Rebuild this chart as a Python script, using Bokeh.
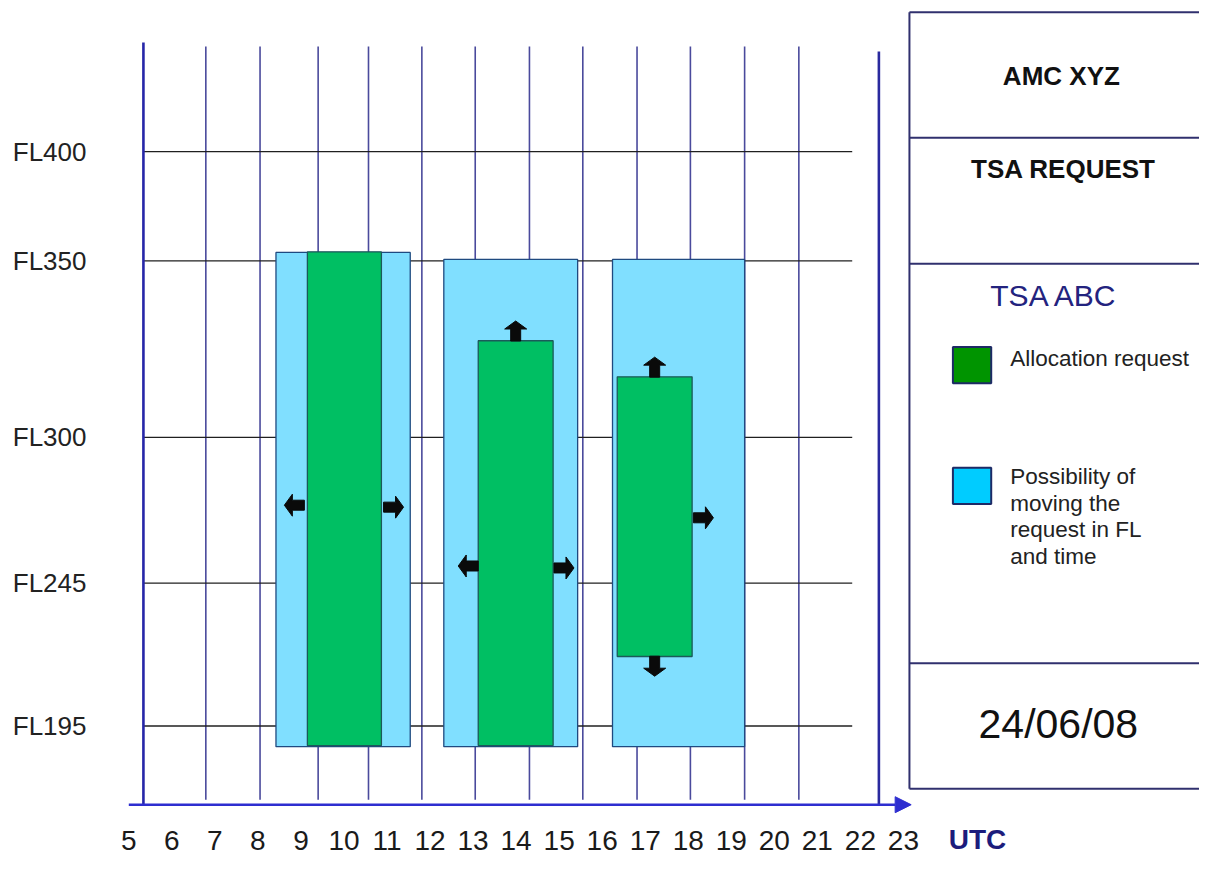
from bokeh.plotting import figure
from bokeh.models import Range1d, FixedTicker, Arrow, NormalHead
from bokeh.core.properties import value
from bokeh.embed import file_html
from bokeh.resources import INLINE

# ---------------- data ----------------
hours = list(range(5, 24))                      # UTC hour tick labels
fl_labels = ["FL400", "FL350", "FL300", "FL245", "FL195"]
fl_pos = [400, 361, 298, 246, 195]              # drawn position of each flight level

# vertical hour lines of the grid (in hour units of the label row)
grid_x = [6.79, 8.05, 9.40, 10.57, 11.81, 13.05, 14.31, 15.55, 16.81, 18.05, 19.31, 20.57]
axis_x = 5.34       # left axis line
end_x = 22.43       # thick end-of-day line
grid_end_x = 21.81  # end of the FL lines

# light blue: possibility of moving the request
win_left = [8.42, 12.32, 16.24]
win_right = [11.54, 15.43, 19.31]
win_top = [364.0, 361.5, 361.5]
win_bottom = [187.6, 187.6, 187.6]

# green: allocation request
req_left = [9.15, 13.12, 16.35]
req_right = [10.87, 14.86, 18.09]
req_top = [364.2, 332.5, 319.6]
req_bottom = [188.0, 188.0, 219.8]

# small move arrows (tail position + direction)
arr_x = [9.08, 10.92, 13.99, 13.12, 14.88, 17.22, 17.22, 18.12]
arr_y = [273.8, 273.1, 332.4, 252.1, 251.4, 319.5, 219.9, 269.3]
arr_dir = ["left", "right", "up", "left", "right", "up", "down", "right"]

panel_title = "AMC XYZ"
panel_sub = "TSA REQUEST"
panel_name = "TSA ABC"
legend_labels = ["Allocation request",
                 ["Possibility of", "moving the", "request in FL", "and time"]]
panel_date = "24/06/08"
unit_label = "UTC"

# ---------------- layout ----------------
FIG_W, FIG_H = 1199, 859
B_LEFT = 108
X0, X1 = 4.5285, 29.880
Y0, Y1 = 147.345, 453.93
frame_w = FIG_W - B_LEFT
frame_h = FIG_H
ppx = frame_w / (X1 - X0)   # pixels per hour unit
ppy = frame_h / (Y1 - Y0)   # pixels per level unit

FONT = "Liberation Sans"
BLUE_FILL = "#80DFFF"
GREEN_FILL = "#00BF63"
RECT_LINE = "#1F4A80"
VLINE = "#4A4A9C"
NAVY = "#23237E"

p = figure(width=FIG_W, height=FIG_H, output_backend="svg", toolbar_location=None,
           x_range=Range1d(X0, X1), y_range=Range1d(Y0, Y1), x_axis_location=None,
           min_border_left=B_LEFT, min_border_bottom=0,
           min_border_top=0, min_border_right=0)
p.outline_line_color = None
p.grid.visible = False
p.background_fill_color = "white"
p.border_fill_color = "white"

# flight level axis (labels only)
p.yaxis.ticker = FixedTicker(ticks=fl_pos)
p.yaxis.major_label_overrides = {v: t for v, t in zip(fl_pos, fl_labels)}
p.yaxis.axis_line_color = None
p.yaxis.major_tick_line_color = None
p.yaxis.minor_tick_line_color = None
p.yaxis.major_label_standoff = 16
p.yaxis.major_label_text_font = FONT
p.yaxis.major_label_text_font_size = "26px"
p.yaxis.major_label_text_color = "#222222"

# hour labels of the time axis
p.text(x=hours, y=[154.3] * len(hours), text=[str(h) for h in hours],
       text_font=value(FONT), text_font_size="28px", text_align="center",
       text_baseline="middle", text_color="#1a1a1a")
p.text(x=[24.72], y=[154.6], text=[unit_label], text_font=value(FONT),
       text_font_size="28px", text_font_style="bold", text_align="center",
       text_baseline="middle", text_color="#1C1C7C")

# grid lines
p.segment(x0=grid_x, y0=[437.5] * len(grid_x), x1=grid_x, y1=[168.7] * len(grid_x),
          line_color=VLINE, line_width=1.6)
p.segment(x0=[axis_x] * len(fl_pos), y0=fl_pos, x1=[grid_end_x] * len(fl_pos), y1=fl_pos,
          line_color="#202020", line_width=1.3)
p.segment(x0=[axis_x], y0=[438.9], x1=[axis_x], y1=[166.9], line_color="#2626A8", line_width=2.6)
p.segment(x0=[end_x], y0=[435.7], x1=[end_x], y1=[166.9], line_color="#2A2A9E", line_width=2.6)

# bottom time axis with arrow
p.add_layout(Arrow(x_start=5.0, y_start=166.9, x_end=23.18, y_end=166.9,
                   line_color="#2E2ED0", line_width=2.6,
                   end=NormalHead(size=16, fill_color="#2E2ED0", line_color="#2E2ED0")))

# rectangles
p.quad(left=win_left, right=win_right, top=win_top, bottom=win_bottom,
       fill_color=BLUE_FILL, line_color=RECT_LINE, line_width=1.3)
p.quad(left=req_left, right=req_right, top=req_top, bottom=req_bottom,
       fill_color=GREEN_FILL, line_color="#1B5A5A", line_width=1.3)

# move arrows as small block arrows
shape = [(0, -5), (12, -5), (12, -11), (20, 0), (12, 11), (12, 5), (0, 5)]
dirs = {"right": (1, 0), "left": (-1, 0), "up": (0, 1), "down": (0, -1)}
xs_list, ys_list = [], []
for x, y, d in zip(arr_x, arr_y, arr_dir):
    dx, dy = dirs[d]
    nx, ny = -dy, dx
    xs_list.append([x + (u * dx + v * nx) / ppx for u, v in shape])
    ys_list.append([y + (u * dy + v * ny) / ppy for u, v in shape])
p.patches(xs=xs_list, ys=ys_list, fill_color="#0a0a0a", line_color="#0a0a0a", line_width=1)

# ---------------- right panel ----------------
PX = 23.14
panel_y = [449.7, 404.9, 360.0, 217.4, 172.6]
p.segment(x0=[PX] * len(panel_y), y0=panel_y, x1=[31.0] * len(panel_y), y1=panel_y,
          line_color="#30306E", line_width=2)
p.segment(x0=[PX], y0=[panel_y[0]], x1=[PX], y1=[panel_y[-1]], line_color="#30306E", line_width=2)

p.text(x=[26.67, 26.72], y=[427.0, 393.7], text=[panel_title, panel_sub],
       text_font=value(FONT), text_font_size="26px", text_font_style="bold",
       text_align="center", text_baseline="middle", text_color="#111111")
p.text(x=[26.51], y=[348.8], text=[panel_name], text_font=value(FONT),
       text_font_size="30px", text_align="center", text_baseline="middle", text_color=NAVY)

# legend swatches
p.quad(left=[24.15, 24.15], right=[25.04, 25.04], top=[330.3, 287.2], bottom=[317.3, 274.2],
       fill_color=["#009400", "#00CCFF"], line_color="#1E2A66", line_width=2)
leg_text = [legend_labels[0]] + legend_labels[1]
leg_y = [326.0, 284.0, 274.5, 265.1, 255.6]
p.text(x=[25.48] * len(leg_text), y=leg_y, text=leg_text, text_font=value(FONT),
       text_font_size="22.5px", text_align="left", text_baseline="middle", text_color="#222222")

p.text(x=[26.6], y=[195.7], text=[panel_date], text_font=value(FONT),
       text_font_size="41px", text_align="center", text_baseline="middle", text_color="#111111")

open("out.html", "w").write(file_html(p, INLINE))
